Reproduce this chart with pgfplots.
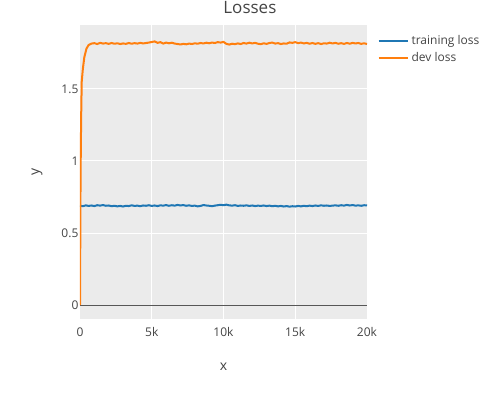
\documentclass[border=0pt]{standalone}
\usepackage{fontspec}
\setmainfont{Open Sans}
\usepackage{pgfplots}
\pgfplotsset{compat=1.18}
\definecolor{txt}{HTML}{444444}
\definecolor{bg}{HTML}{EBEBEB}
\definecolor{tl}{HTML}{1F77B4}
\definecolor{dl}{HTML}{FF7F0E}
\begin{document}
\begin{tikzpicture}
\path[use as bounding box] (-60pt,-60.75pt) rectangle (315pt,239.25pt);
\begin{axis}[
  at={(0,0)}, anchor=south west,
  scale only axis, width=215.25pt, height=220.5pt,
  xmin=0, xmax=20000, ymin=-0.097, ymax=1.944,
  scaled x ticks=false,
  axis background/.style={fill=bg},
  axis line style={draw=none},
  major tick length=0pt,
  grid=major, major grid style={white, line width=0.75pt},
  xtick={0,5000,10000,15000,20000},
  xticklabels={0,5k,10k,15k,20k},
  ytick={0,0.5,1,1.5},
  yticklabels={0,0.5,1,1.5},
  /pgf/number format/assume math mode=true,
  tick label style={font=\fontsize{9}{10}\selectfont, text=txt},
  xticklabel style={yshift=-3pt},
  yticklabel style={inner sep=1pt},
  xlabel={x}, ylabel={y},
  label style={font=\fontsize{10.5}{12}\selectfont, text=txt},
  xlabel style={at={(axis description cs:0.5,-0.163)}, anchor=center},
  ylabel style={at={(axis description cs:-0.15,0.5)}, anchor=center},
  title={Losses},
  title style={font=\fontsize{12.75}{14}\selectfont, text=txt, at={(axis description cs:0.592,1.031)}, anchor=center},
  legend style={at={(axis description cs:1.022,0.985)}, anchor=north west, draw=none, fill=none,
    font=\fontsize{9}{10}\selectfont, text=txt, row sep=1pt},
  legend cell align=left,
  legend image code/.code={\draw[#1, line width=1.5pt] (0pt,0pt) -- (22pt,0pt);},
  clip=true,
]
\draw[txt!90, line width=0.75pt] (axis cs:0,0) -- (axis cs:20000,0);
\addplot[tl, line width=1.5pt] coordinates {
(0,0.690)(200,0.686)(400,0.692)(600,0.688)(800,0.691)(1000,0.687)(1200,0.693)(1400,0.690)(1600,0.694)(1800,0.689)
(2000,0.691)(2200,0.686)(2400,0.689)(2600,0.685)(2800,0.688)(3000,0.684)(3200,0.689)(3400,0.687)(3600,0.692)(3800,0.688)
(4000,0.690)(4200,0.686)(4400,0.691)(4600,0.689)(4800,0.693)(5000,0.688)(5200,0.691)(5400,0.687)(5600,0.692)(5800,0.690)
(6000,0.694)(6200,0.689)(6400,0.693)(6600,0.690)(6800,0.695)(7000,0.691)(7200,0.694)(7400,0.689)(7600,0.692)(7800,0.688)
(8000,0.690)(8200,0.685)(8400,0.688)(8600,0.694)(8800,0.691)(9000,0.689)(9200,0.686)(9400,0.690)(9600,0.693)(9800,0.696)
(10000,0.693)(10200,0.697)(10400,0.692)(10600,0.690)(10800,0.693)(11000,0.688)(11200,0.691)(11400,0.689)(11600,0.692)(11800,0.688)
(12000,0.691)(12200,0.687)(12400,0.690)(12600,0.688)(12800,0.691)(13000,0.687)(13200,0.690)(13400,0.686)(13600,0.689)(13800,0.685)
(14000,0.688)(14200,0.684)(14400,0.687)(14600,0.683)(14800,0.686)(15000,0.684)(15200,0.688)(15400,0.685)(15600,0.689)(15800,0.686)
(16000,0.690)(16200,0.687)(16400,0.691)(16600,0.688)(16800,0.692)(17000,0.689)(17200,0.691)(17400,0.688)(17600,0.690)(17800,0.692)
(18000,0.689)(18200,0.693)(18400,0.690)(18600,0.695)(18800,0.691)(19000,0.694)(19200,0.690)(19400,0.692)(19600,0.689)(19800,0.693)
(20000,0.691)
};
\addlegendentry{training loss}
\addplot[dl, line width=1.5pt] coordinates {
(0,0)(40,0.9)(80,1.3)(120,1.55)(200,1.64)(300,1.72)(450,1.78)(600,1.805)(800,1.815)
(1000,1.818)(1200,1.812)(1400,1.820)(1600,1.815)(1800,1.818)(2000,1.813)(2200,1.819)(2400,1.814)(2600,1.817)(2800,1.812)
(3000,1.816)(3200,1.813)(3400,1.819)(3600,1.814)(3800,1.818)(4000,1.815)(4200,1.820)(4400,1.816)(4600,1.819)(4800,1.822)
(5000,1.826)(5200,1.830)(5400,1.820)(5600,1.825)(5800,1.815)(6000,1.822)(6200,1.817)(6400,1.821)(6600,1.815)(6800,1.812)
(7000,1.809)(7200,1.813)(7400,1.810)(7600,1.815)(7800,1.812)(8000,1.817)(8200,1.814)(8400,1.819)(8600,1.816)(8800,1.821)
(9000,1.817)(9200,1.822)(9400,1.819)(9600,1.825)(9800,1.822)(10000,1.827)(10200,1.813)(10400,1.808)(10600,1.814)(10800,1.811)
(11000,1.816)(11200,1.812)(11400,1.819)(11600,1.815)(11800,1.821)(12000,1.816)(12200,1.820)(12400,1.814)(12600,1.811)(12800,1.817)
(13000,1.813)(13200,1.819)(13400,1.822)(13600,1.815)(13800,1.818)(14000,1.812)(14200,1.816)(14400,1.814)(14600,1.823)(14800,1.820)
(15000,1.825)(15200,1.818)(15400,1.822)(15600,1.816)(15800,1.820)(16000,1.814)(16200,1.819)(16400,1.813)(16600,1.818)(16800,1.812)
(17000,1.817)(17200,1.815)(17400,1.821)(17600,1.816)(17800,1.820)(18000,1.814)(18200,1.818)(18400,1.813)(18600,1.819)(18800,1.814)
(19000,1.820)(19200,1.816)(19400,1.819)(19600,1.813)(19800,1.817)(20000,1.812)
};
\addlegendentry{dev loss}
\end{axis}
\end{tikzpicture}
\end{document}
